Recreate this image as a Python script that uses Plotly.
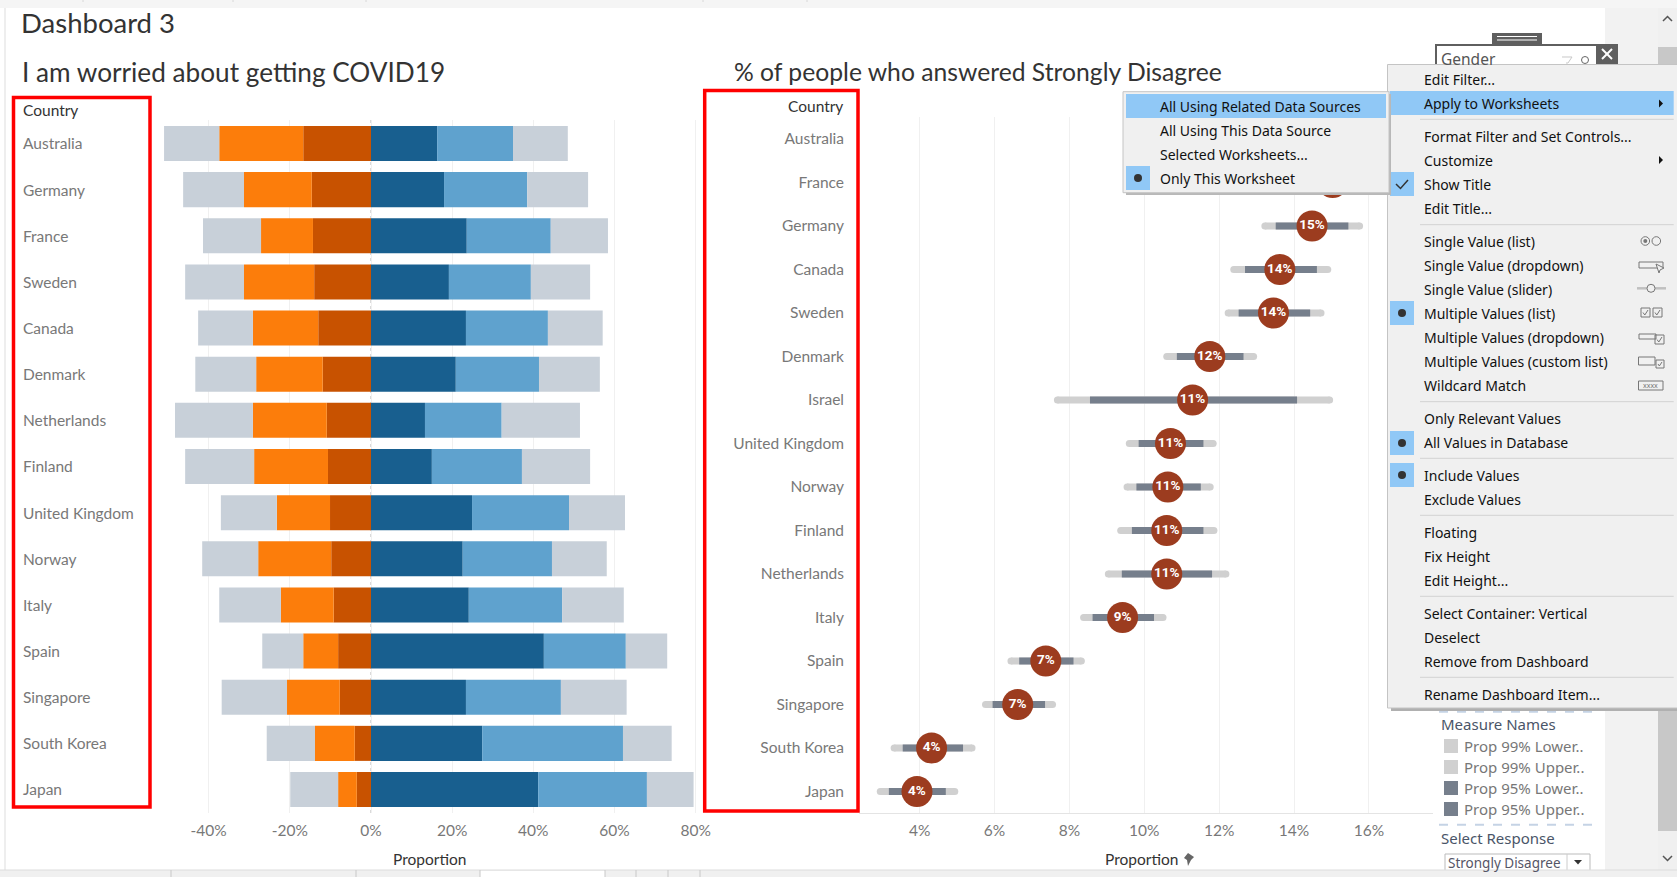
import plotly.graph_objects as go

W = 1677
H = 877

# left chart, sorted the way the bars are drawn
countries_left = ['Australia', 'Germany', 'France', 'Sweden', 'Canada', 'Denmark', 'Netherlands', 'Finland',
                  'United Kingdom', 'Norway', 'Italy', 'Spain', 'Singapore', 'South Korea', 'Japan']
strong_disagree = [16.7, 14.6, 14.3, 14.0, 13.0, 11.9, 10.9, 10.6, 10.1, 9.8, 9.2, 8.1, 7.7, 4.0, 3.5]
disagree = [20.7, 16.7, 12.8, 17.3, 16.1, 16.4, 18.2, 18.2, 13.1, 18.0, 13.0, 8.6, 13.0, 9.8, 4.6]
neutral_neg = [13.6, 15.0, 14.3, 14.5, 13.5, 15.0, 19.2, 17.0, 13.8, 13.8, 15.2, 10.1, 16.1, 11.9, 11.8]
strong_agree = [16.3, 18.0, 23.6, 19.2, 23.4, 20.9, 13.3, 15.0, 24.9, 22.6, 24.1, 42.6, 23.4, 27.4, 41.2]
agree = [18.7, 20.5, 20.7, 20.2, 20.2, 20.5, 18.9, 22.2, 23.9, 22.0, 23.0, 20.2, 23.4, 34.7, 26.8]
neutral_pos = [13.5, 15.0, 14.1, 14.6, 13.5, 15.0, 19.3, 16.8, 13.8, 13.5, 15.2, 10.2, 16.2, 12.0, 11.5]
left_ticks = [-40, -20, 0, 20, 40, 60, 80]
left_tick_labels = ['-40%', '-20%', '0%', '20%', '40%', '60%', '80%']

# right chart (Australia and France sit behind the menus, so those are estimates)
countries_right = ['Australia', 'France', 'Germany', 'Canada', 'Sweden', 'Denmark', 'Israel', 'United Kingdom',
                   'Norway', 'Finland', 'Netherlands', 'Italy', 'Spain', 'Singapore', 'South Korea', 'Japan']
prop = [15.6, 15.03, 14.48, 13.62, 13.45, 11.75, 11.29, 10.70, 10.63, 10.60, 10.60, 9.42, 7.37, 6.62, 4.32, 3.93]
prop_labels = ['16%', '15%', '15%', '14%', '14%', '12%', '11%', '11%', '11%', '11%', '11%', '9%', '7%', '7%', '4%', '4%']
prop_99_lower = [14.4, 13.8, 13.22, 12.39, 12.24, 10.60, 7.68, 9.60, 9.54, 9.37, 9.04, 8.38, 6.44, 5.76, 3.32, 2.95]
prop_99_upper = [16.8, 16.2, 15.75, 14.90, 14.72, 12.92, 14.95, 11.84, 11.76, 11.86, 12.18, 10.50, 8.32, 7.55, 5.40, 4.94]
prop_95_lower = [14.7, 14.1, 13.51, 12.69, 12.52, 10.87, 8.55, 9.85, 9.79, 9.67, 9.40, 8.62, 6.66, 5.95, 3.55, 3.18]
prop_95_upper = [16.5, 15.9, 15.45, 14.61, 14.43, 12.65, 14.08, 11.58, 11.51, 11.58, 11.81, 10.26, 8.11, 7.35, 5.16, 4.70]
right_ticks = [4, 6, 8, 10, 12, 14, 16]
right_tick_labels = ['4%', '6%', '8%', '10%', '12%', '14%', '16%']

# filter menu texts
menu_labels = ['Edit Filter...', 'Apply to Worksheets', 'Format Filter and Set Controls...', 'Customize', 'Show Title',
               'Edit Title...', 'Single Value (list)', 'Single Value (dropdown)', 'Single Value (slider)',
               'Multiple Values (list)', 'Multiple Values (dropdown)', 'Multiple Values (custom list)',
               'Wildcard Match', 'Only Relevant Values', 'All Values in Database', 'Include Values', 'Exclude Values',
               'Floating', 'Fix Height', 'Edit Height...', 'Select Container: Vertical', 'Deselect',
               'Remove from Dashboard', 'Rename Dashboard Item...']
menu_rows = [79.5, 103.5, 136.5, 160.5, 184.5, 208.5, 241.5, 265.5, 289.5, 313.5, 337.5, 361.5, 385.5, 418.5, 442.5,
             475.5, 499.5, 532.5, 556.5, 580.5, 613.5, 637.5, 661.5, 694.5]
menu_separators = [119.3, 224.7, 401.7, 458.3, 515.3, 596.3, 677.3]
submenu_labels = ['All Using Related Data Sources', 'All Using This Data Source', 'Selected Worksheets...', 'Only This Worksheet']
submenu_rows = [106.5, 130.5, 154.5, 178.5]
legend_labels = ['Prop 99% Lower..', 'Prop 99% Upper..', 'Prop 95% Lower..', 'Prop 95% Upper..']
legend_rows = [746, 767, 788, 809]
legend_colors = ['#d0d0d0', '#d0d0d0', '#767f8c', '#767f8c']

FONT = 'Lato'
MENU_FONT = 'Noto Sans'
GREY_TEXT = '#787878'
DARK_TEXT = '#333333'
GRID = '#f0f0f0'


def px(x):
    return x / W


def py(y):
    return 1 - y / H


def rect(x0, y0, x1, y1, fill=None, line=None, width=1):
    shapes.append(dict(type='rect', xref='paper', yref='paper', layer='above',
                       x0=px(x0), x1=px(x1), y0=py(y0), y1=py(y1),
                       fillcolor=fill if fill else 'rgba(0,0,0,0)',
                       line=dict(color=line if line else 'rgba(0,0,0,0)', width=width if line else 0)))


def hline(x0, x1, y, color, width=1, dash=None):
    shapes.append(dict(type='line', xref='paper', yref='paper', layer='above',
                       x0=px(x0), x1=px(x1), y0=py(y), y1=py(y),
                       line=dict(color=color, width=width, dash=dash)))


def vline(x, y0, y1, color, width=1):
    shapes.append(dict(type='line', xref='paper', yref='paper', layer='above',
                       x0=px(x), x1=px(x), y0=py(y0), y1=py(y1), line=dict(color=color, width=width)))


def circle(x, y, r, fill=None, line=None, width=1):
    shapes.append(dict(type='circle', xref='paper', yref='paper', layer='above',
                       x0=px(x - r), x1=px(x + r), y0=py(y - r), y1=py(y + r),
                       fillcolor=fill if fill else 'rgba(0,0,0,0)',
                       line=dict(color=line if line else 'rgba(0,0,0,0)', width=width if line else 0)))


def poly(points, fill=None, line=None, width=1):
    path = 'M ' + ' L '.join(f'{px(x):.5f},{py(y):.5f}' for x, y in points)
    if fill:
        path += ' Z'
    shapes.append(dict(type='path', xref='paper', yref='paper', layer='above', path=path,
                       fillcolor=fill if fill else 'rgba(0,0,0,0)',
                       line=dict(color=line if line else 'rgba(0,0,0,0)', width=width if line else 0)))


def tickbox(x0, y0, size):
    rect(x0, y0, x0 + size, y0 + size, line='#777777')
    poly([(x0 + 2, y0 + size / 2), (x0 + size * 0.42, y0 + size - 2), (x0 + size - 2, y0 + 2)], line='#777777')


def label(text, x, y, size, color=DARK_TEXT, anchor='left', font=FONT):
    annotations.append(dict(text=text, xref='paper', yref='paper', x=px(x), y=py(y), xanchor=anchor, yanchor='middle',
                            showarrow=False, font=dict(family=font, size=size, color=color)))


shapes = []
annotations = []

fig = go.Figure()

# Diverging bars, left
neg_series = [('Strongly disagree', strong_disagree, '#c85200'), ('Disagree', disagree, '#fc7d0b'), ('Neutral -', neutral_neg, '#c8d0d9')]
pos_series = [('Strongly agree', strong_agree, '#185f8f'), ('Agree', agree, '#5fa2ce'), ('Neutral +', neutral_pos, '#c8d0d9')]
for name, vals, color in neg_series:
    fig.add_trace(go.Bar(y=countries_left, x=[-v for v in vals], name=name, orientation='h', marker=dict(color=color, line=dict(width=0)),
                         xaxis='x', yaxis='y', showlegend=False))
for name, vals, color in pos_series:
    fig.add_trace(go.Bar(y=countries_left, x=vals, name=name, orientation='h', marker=dict(color=color, line=dict(width=0)),
                         xaxis='x', yaxis='y', showlegend=False))

# Confidence bars, right
def ranges(lows, highs, cats):
    xs, ys = [], []
    for lo, hi, c in zip(lows, highs, cats):
        xs += [lo, hi, None]
        ys += [c, c, None]
    return xs, ys


x99, y99 = ranges(prop_99_lower, prop_99_upper, countries_right)
fig.add_trace(go.Scatter(x=x99, y=y99, mode='lines+markers', line=dict(color='#d0d0d0', width=7),
                         marker=dict(color='#d0d0d0', size=7), xaxis='x2', yaxis='y2', showlegend=False))
x95, y95 = ranges(prop_95_lower, prop_95_upper, countries_right)
fig.add_trace(go.Scatter(x=x95, y=y95, mode='lines', line=dict(color='#767f8c', width=7),
                         xaxis='x2', yaxis='y2', showlegend=False))
fig.add_trace(go.Scatter(x=prop, y=countries_right, mode='markers+text', text=prop_labels, textposition='middle center',
                         textfont=dict(family='Roboto', size=13.5, color='white', weight='bold'),
                         marker=dict(color='#9c3c1f', size=31), xaxis='x2', yaxis='y2', showlegend=False))

# zero line on the left chart is dotted
shapes.append(dict(type='line', xref='x', yref='paper', layer='below', x0=0, x1=0, y0=py(120), y1=py(813),
                   line=dict(color='#b5b5b5', width=1, dash='dot')))

fig.update_layout(
    width=W,
    height=H,
    margin=dict(l=0, r=0, t=0, b=0, autoexpand=False),
    paper_bgcolor='white',
    plot_bgcolor='white',
    barmode='relative',
    bargap=0.241,
    xaxis=dict(domain=[px(160), px(701.7)], range=[-52, 81.5], tickvals=left_ticks, ticktext=left_tick_labels,
               showgrid=True, gridcolor=GRID, zeroline=False, showline=False, anchor='y',
               tickfont=dict(family=FONT, size=15.5, color=GREY_TEXT), ticks='', ticklabelstandoff=7),
    yaxis=dict(domain=[py(812.6), py(120.4)], range=[14.5, -0.5], showticklabels=False, showgrid=False, zeroline=False,
               showline=False, ticks='', anchor='x', categoryorder='array', categoryarray=countries_left),
    xaxis2=dict(domain=[px(859), px(1433)], range=[2.382, 17.71], tickvals=right_ticks, ticktext=right_tick_labels,
                showgrid=True, gridcolor=GRID, zeroline=False, showline=True, linecolor='#e4e4e4', anchor='y2',
                tickfont=dict(family=FONT, size=15.5, color=GREY_TEXT), ticks='', ticklabelstandoff=3),
    yaxis2=dict(domain=[py(813.25), py(117.25)], range=[15.5, -0.5], showgrid=False, zeroline=False, showline=False,
                tickfont=dict(family=FONT, size=15.5, color=GREY_TEXT), ticks='', ticklabelstandoff=14, anchor='x2',
                categoryorder='array', categoryarray=countries_right),
)

# Titles and headers
label('Dashboard 3', 19, 22.5, 27.5)
label('I am worried about getting COVID19', 20, 72.5, 26.2)
label('% of people who answered Strongly Disagree', 732, 71.5, 24.7)
label('Country', 21, 110, 15.5)
label('Country', 845, 106.5, 15.5, anchor='right')
for i, c in enumerate(countries_left):
    label(c, 21, 143.5 + i * 46.14, 15.5, GREY_TEXT)
label('Proportion', 429, 859, 15.5, anchor='center')
label('Proportion', 1141, 859, 15.5, anchor='center')
poly([(1188, 853), (1194, 857), (1191, 860), (1188, 866), (1187, 860), (1184, 858)], fill='#666666')

# Red highlight boxes
rect(13.5, 97.5, 150, 807, line='#ff0000', width=3.5)
rect(704.7, 90.5, 858, 811, line='#ff0000', width=3.5)

# Window chrome
rect(0, 0, W, 8, fill='#f5f5f5')
vline(5, 8, 870, '#dddddd')
for x in [83, 233, 366, 703, 807]:
    vline(x, 0, 2, '#d8d8d8')
rect(1605, 8, 1658, 870, fill='#f2f2f2')
rect(1658, 8, W, 870, fill='#f0f0f0')
rect(1658, 47, W, 831, fill='#c8c8c8')
poly([(1663, 21), (1667.5, 16.5), (1672, 21)], line='#555555', width=1.5)
poly([(1663, 856), (1667.5, 860.5), (1672, 856)], line='#555555', width=1.5)

# Filter card behind the menu
rect(1492, 33, 1542, 45, fill='#5f5f5f')
hline(1497, 1537, 36.5, 'white', 1)
hline(1497, 1537, 40, 'white', 1)
rect(1436, 45, 1597, 70, fill='white', line='#5f5f5f', width=2)
rect(1597, 44, 1618, 66, fill='#5f5f5f')
poly([(1602, 49), (1612, 59)], line='white', width=2)
poly([(1612, 49), (1602, 59)], line='white', width=2)
poly([(1562, 57), (1572, 57), (1568, 63), (1566, 63)], line='#c8c8c8', width=1)
circle(1585, 60, 3.5, line='#666666', width=1)
label('Gender', 1439, 59, 15.5, '#555555', font=MENU_FONT)

# Legend and response filter
hline(1439, 1592, 711.7, '#c5d3e5', 2, 'dash')
label('Measure Names', 1439, 724, 15, '#4a5568', font=MENU_FONT)
for text, y, color in zip(legend_labels, legend_rows, legend_colors):
    rect(1444, y - 7, 1458, y + 7, fill=color)
    label(text, 1461.5, y, 15, '#777777', font=MENU_FONT)
hline(1439, 1592, 824.7, '#c5d3e5', 2, 'dash')
label('Select Response', 1439, 838, 15, '#4a5568', font=MENU_FONT)
rect(1445, 854, 1590, 880, fill='white', line='#bbbbbb')
vline(1567, 854, 880, '#cccccc')
poly([(1574, 860), (1582, 860), (1578, 864.5)], fill='#333333')
label('Strongly Disagree', 1446, 863, 13.5, '#555566', font=MENU_FONT)

# Bottom tabs
rect(0, 870, W, H, fill='#f0f0f0')
hline(0, W, 870, '#dcdcdc')
rect(480, 871, 605, H, fill='white')
for x in [171, 356, 480, 605, 636, 668, 700]:
    vline(x, 870, H, '#c8c8c8')

# Main context menu
rect(1391, 707, W, 711, fill='#b0b0b0')
rect(1387.5, 64.5, W + 2, 708, fill='#f0f0f0', line='#c4c4c4')
rect(1389.7, 91, 1673.7, 115, fill='#90c8f6')
for y in menu_separators:
    hline(1420, 1673.7, y, '#d2d2d2')
rect(1390, 172, 1414, 196, fill='#90c8f6')
poly([(1396, 184), (1400.5, 188.5), (1408, 180)], line='#333333', width=1.5)
for y in [313, 443, 475]:
    rect(1390, y - 12, 1414, y + 12, fill='#90c8f6')
    circle(1402, y, 4, fill='#333333')
for text, y in zip(menu_labels, menu_rows):
    label(text, 1422, y, 14, '#111111', font=MENU_FONT)
for y in [103.5, 160]:
    poly([(1659, y - 4), (1663, y), (1659, y + 4)], fill='#111111')

# Menu icons
circle(1645.3, 241, 4.3, line='#777777')
circle(1645.3, 241, 2, fill='#777777')
circle(1656.3, 241, 4.3, line='#777777')
rect(1639, 262, 1663, 268, line='#777777')
poly([(1656, 264), (1664, 268), (1660, 270), (1659, 273)], fill='#f0f0f0', line='#777777')
hline(1637, 1666, 288.3, '#c0c0c0', 2.5)
circle(1651, 288.3, 4, fill='#f0f0f0', line='#777777')
tickbox(1641, 308, 9)
tickbox(1653, 308, 9)
rect(1639, 334, 1656, 339, line='#777777')
tickbox(1655, 335, 9)
rect(1638.5, 357, 1655, 365, line='#777777')
tickbox(1656, 360, 8)
rect(1638.5, 381, 1663, 390, line='#777777')
label('xxxx', 1641, 385, 7, '#777777', font=MENU_FONT)

# Submenu
rect(1126, 191, 1391, 195, fill='#b8b8b8')
rect(1388, 94, 1391, 195, fill='#b8b8b8')
rect(1123, 91.7, 1389, 192.7, fill='#f0f0f0', line='#c4c4c4')
rect(1126, 94, 1386, 118, fill='#90c8f6')
rect(1126, 166, 1150, 190, fill='#90c8f6')
circle(1138, 178, 4, fill='#333333')
for text, y in zip(submenu_labels, submenu_rows):
    label(text, 1158, y, 14, '#111111', font=MENU_FONT)

fig.update_layout(shapes=shapes, annotations=annotations)
# browser's default body margin would push the page 8px off
fig.write_html("out.html", config=dict(displayModeBar=False), post_script="document.body.style.margin='0';")
